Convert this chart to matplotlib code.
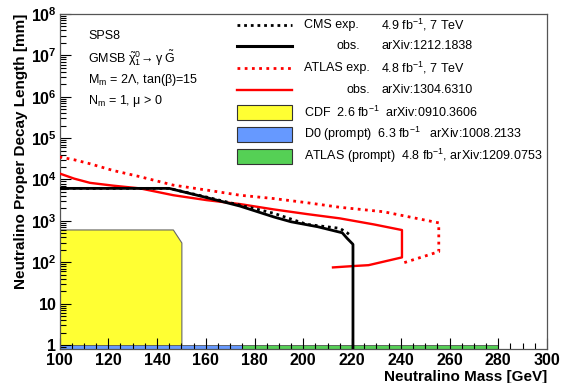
import math

import matplotlib
matplotlib.use("Agg")
from matplotlib import pyplot as plt
from matplotlib.lines import Line2D
from matplotlib.patches import Rectangle
from matplotlib.ticker import FixedLocator, FuncFormatter, LogLocator, MultipleLocator, NullFormatter

plt.rcParams['font.family'] = ['Liberation Sans', 'DejaVu Sans']
plt.rcParams['mathtext.fontset'] = 'custom'
plt.rcParams['mathtext.rm'] = 'Liberation Sans'
plt.rcParams['mathtext.it'] = 'Liberation Sans'
plt.rcParams['mathtext.bf'] = 'Liberation Sans:bold'

# CMS (arXiv:1212.1838)
cms_obs_mass = [100, 145, 160, 174, 188, 195, 206, 216, 218, 220.4, 220.4]
cms_obs_ctau = [6100, 6100, 3700, 2280, 1240, 950, 720, 515, 378, 271, 0.8]
cms_exp_mass = [100, 145, 160, 174, 188, 201.5, 215, 218, 219.5]
cms_exp_ctau = [6100, 6100, 3800, 2400, 1520, 823, 660, 515, 440]

# ATLAS (arXiv:1304.6310)
atlas_obs_mass = [100, 106, 112.5, 122, 133, 146.7, 160.4, 174, 187.7, 201.5, 215, 229, 240.5, 240.5, 226.8, 220.7, 212.2]
atlas_obs_ctau = [14000, 10500, 8300, 7100, 6100, 4170, 3170, 2550, 1900, 1460, 1150, 820, 600, 131, 85, 81, 75]
atlas_exp_mass = [100, 106, 112.5, 122, 133, 146.7, 160.4, 174, 187.7, 201.5, 215, 233, 255.6, 255.6, 240.5]
atlas_exp_ctau = [35000, 30000, 24000, 16500, 11700, 7300, 5550, 4170, 3470, 2750, 2130, 1660, 895, 180, 94]

# CDF excluded region
cdf_mass = [100, 146.5, 150]
cdf_ctau = [620, 620, 300]

# prompt searches (mass ranges)
d0_mass = [100, 175]
atlas_prompt_mass = [175, 280]

y_low = 0.8
y_high = 1e8

fig = plt.figure(figsize=(5.64, 3.83), dpi=100)
ax = fig.add_axes([59.5 / 564, 1 - 349 / 383, 487.5 / 564, 335 / 383])

frame_col = "#555555"
ax.fill_between(cdf_mass, y_low, cdf_ctau, facecolor="#FFFF33", edgecolor="#666666", lw=0.8, zorder=1)
ax.fill_between(d0_mass, y_low, 1.0, facecolor="#6699FF", edgecolor="#555555", lw=0.6, zorder=1)
ax.fill_between(atlas_prompt_mass, y_low, 1.0, facecolor="#55D055", edgecolor="#555555", lw=0.6, zorder=1)

ax.plot(atlas_exp_mass, atlas_exp_ctau, color="red", lw=2.0, ls=(0, (1, 1.6)), zorder=3)
ax.plot(atlas_obs_mass, atlas_obs_ctau, color="red", lw=1.7, zorder=3)
ax.plot(cms_exp_mass, cms_exp_ctau, color="black", lw=2.0, ls=(0, (1, 1.4)), zorder=4)
ax.plot(cms_obs_mass, cms_obs_ctau, color="black", lw=2.0, zorder=4)

ax.set_yscale("log")
ax.set_xlim(100, 300)
ax.set_ylim(y_low, y_high)

ax.xaxis.set_major_locator(MultipleLocator(20))
ax.xaxis.set_minor_locator(MultipleLocator(5))
ax.yaxis.set_major_locator(FixedLocator([10.0 ** k for k in range(0, 9)]))
ax.yaxis.set_minor_locator(LogLocator(base=10, subs=range(2, 10), numticks=20))
ax.yaxis.set_minor_formatter(NullFormatter())


def ylab(v, pos):
    k = int(round(math.log10(v)))
    if k == 0:
        return r"$\mathbf{1}$"
    if k == 1:
        return r"$\mathbf{10}$"
    return r"$\mathbf{10^{%d}}$" % k


ax.yaxis.set_major_formatter(FuncFormatter(ylab))
ax.tick_params(which="both", direction="in", top=False, right=False, colors="black", labelsize=11.5)
ax.tick_params(which="major", length=8, width=0.8)
ax.tick_params(which="minor", length=4, width=0.8)
for lab in ax.get_xticklabels():
    lab.set_fontweight("bold")
ax.tick_params(axis="x", pad=3)
ax.tick_params(axis="y", pad=2)
for s in ax.spines.values():
    s.set_color(frame_col)
    s.set_linewidth(0.9)

ax.set_xlabel("Neutralino Mass [GeV]", fontsize=11, fontweight="bold", loc="right", labelpad=1)
ax.set_ylabel("Neutralino Proper Decay Length [mm]", fontsize=11, fontweight="bold", loc="top", labelpad=2)


def axf(px, py):
    return ((px - 59.5) / 487.5, (349 - py) / 335)


# model description
fs = 9
for txt, py in [("SPS8", 36),
                (r"GMSB $\tilde{\chi}_{1}^{0}\!\rightarrow\gamma\ \tilde{G}$", 58),
                (r"M$_{m}$ = 2Λ, tan(β)=15", 80),
                (r"N$_{m}$ = 1, μ > 0", 101)]:
    ax.text(*axf(88, py), txt, transform=ax.transAxes, fontsize=fs, va="center", ha="left")

# legend drawn by hand
rows = [25, 46, 68, 90, 112, 134, 156]
line_entries = [("black", (0, (1, 1.4)), 2.0), ("black", "-", 2.2), ("red", (0, (1, 1.6)), 2.0), ("red", "-", 1.7)]
for (c, ls, lw), py in zip(line_entries, rows[:4]):
    x0, y0 = axf(237, py)
    x1, _ = axf(292, py)
    ax.add_line(Line2D([x0, x1], [y0, y0], transform=ax.transAxes, color=c, ls=ls, lw=lw, zorder=5))
for col, py in zip(["#FFFF33", "#6699FF", "#55D055"], rows[4:]):
    x0, y0 = axf(237, py + 7.5)
    x1, y1 = axf(292, py - 7.5)
    ax.add_patch(Rectangle((x0, y0), x1 - x0, y1 - y0, transform=ax.transAxes,
                           facecolor=col, edgecolor="#333333", lw=0.8, zorder=5))

ax.text(*axf(304, rows[0]), "CMS exp.", transform=ax.transAxes, fontsize=fs, va="center")
ax.text(*axf(360, rows[1]), "obs.", transform=ax.transAxes, fontsize=fs, va="center", ha="right")
ax.text(*axf(304, rows[2]), "ATLAS exp.", transform=ax.transAxes, fontsize=fs, va="center")
ax.text(*axf(370, rows[3]), "obs.", transform=ax.transAxes, fontsize=fs, va="center", ha="right")
ax.text(*axf(381, rows[0]), r"4.9 fb$^{-1}$, 7 TeV", transform=ax.transAxes, fontsize=fs, va="center")
ax.text(*axf(381, rows[1]), "arXiv:1212.1838", transform=ax.transAxes, fontsize=fs, va="center")
ax.text(*axf(381, rows[2]), r"4.8 fb$^{-1}$, 7 TeV", transform=ax.transAxes, fontsize=fs, va="center")
ax.text(*axf(381, rows[3]), "arXiv:1304.6310", transform=ax.transAxes, fontsize=fs, va="center")
ax.text(*axf(304, rows[4]), r"CDF  2.6 fb$^{-1}$  arXiv:0910.3606", transform=ax.transAxes, fontsize=fs, va="center")
ax.text(*axf(304, rows[5]), r"D0 (prompt)  6.3 fb$^{-1}$   arXiv:1008.2133", transform=ax.transAxes, fontsize=fs, va="center")
ax.text(*axf(304, rows[6]), r"ATLAS (prompt)  4.8 fb$^{-1}$, arXiv:1209.0753", transform=ax.transAxes, fontsize=fs, va="center")

fig.savefig("out.png", dpi=100)
